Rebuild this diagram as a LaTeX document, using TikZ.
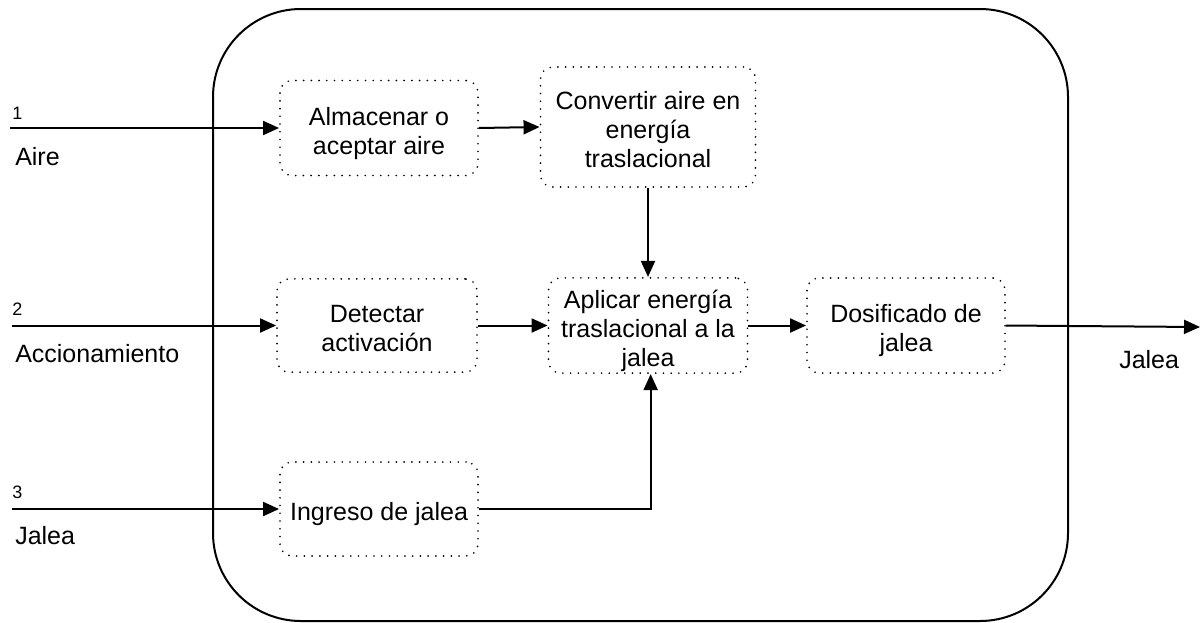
\documentclass[tikz,border=0pt]{standalone}
\usepackage{fontspec}
\setmainfont{Liberation Sans}
\usetikzlibrary{arrows.meta}
\newcommand\tstr{\rule{0pt}{22.95pt}}
\newcommand\bstr{\rule[-5pt]{0pt}{0pt}}
\begin{document}
\begin{tikzpicture}[x=0.75pt,y=-0.75pt,
  fbox/.style={draw=black, line width=1.4pt, dash pattern=on 0pt off 5.8pt, line cap=round,
    rounded corners=9pt, align=center, inner sep=0pt,
    font=\fontsize{18.75}{21.75}\selectfont},
  conn/.style={line width=1.5pt, -{Triangle[length=12pt,width=10.5pt]}},
  lbl/.style={anchor=base west, inner sep=0pt, font=\fontsize{18.75}{21.75}\selectfont},
  num/.style={anchor=base west, inner sep=0pt, font=\fontsize{13.5}{15}\selectfont}]
\useasboundingbox (0,0) rectangle (1201,622);
% system boundary
\draw[line width=1.5pt, rounded corners=66pt] (213,9) rectangle (1068,621);
% function boxes
\node[fbox, minimum width=148.5pt, minimum height=71.25pt] (alm) at (379,128) {\tstr Almacenar o\\aceptar aire\bstr};
\node[fbox, minimum width=161.25pt, minimum height=90pt] (conv) at (648,127) {\tstr Convertir aire en\\energía\\traslacional\bstr};
\node[fbox, minimum width=150pt, minimum height=70pt] (det) at (377,325.5) {\tstr Detectar\\activación\bstr};
\node[fbox, minimum width=149.25pt, minimum height=71.25pt] (apl) at (648,325.5) {\tstr Aplicar energía\\traslacional a la\\jalea\bstr};
\node[fbox, minimum width=148.5pt, minimum height=71.25pt] (dos) at (906,325.5) {\tstr Dosificado de\\jalea\bstr};
\node[fbox, minimum width=148.5pt, minimum height=70.5pt] (ing) at (379,509) {\tstr Ingreso de jalea\bstr};
% external coordinates
\coordinate (in1) at (10,128);
\coordinate (in2) at (12,325.5);
\coordinate (in3) at (12,509);
\coordinate (out) at (1200,327);
% connectors
\draw[conn] (in1) -- (alm.west);
\draw[conn] (in2) -- (det.west);
\draw[conn] (in3) -- (ing.west);
\draw[conn] (alm.east) -- (conv.west);
\draw[conn] (conv.south) -- (apl.north);
\draw[conn] (det.east) -- (apl.west);
\draw[conn] (ing.east) -| ([xshift=2pt]apl.south);
\draw[conn] (apl.east) -- (dos.west);
\draw[conn] (dos.east) -- (out);
% labels
\node[num] (n1) at (12,119) {1};
\node[lbl] (l1) at (15,165) {Aire};
\node[num] (n2) at (12,315) {2};
\node[lbl] (l2) at (15,362) {Accionamiento};
\node[num] (n3) at (12,498) {3};
\node[lbl] (l3) at (15,544) {Jalea};
\node[lbl] (l4) at (1119,368) {Jalea};
\end{tikzpicture}
\end{document}
